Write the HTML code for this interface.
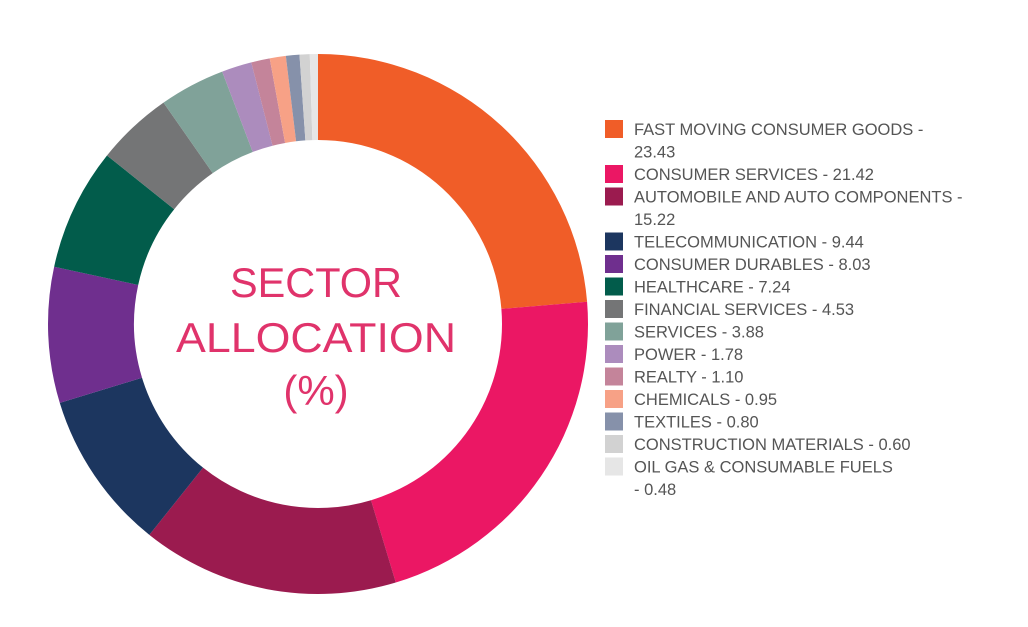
<!DOCTYPE html>
<html><head><meta charset="utf-8"><style>
body{margin:0;background:#fff;}
svg{display:block;font-family:"Liberation Sans",sans-serif;}
</style></head><body>
<svg id="chart" width="1028" height="627" viewBox="0 0 1028 627">
<g id="slices"></g>
<g fill="#e0336b" font-size="42" text-anchor="middle">
<text x="316" y="297" textLength="172" lengthAdjust="spacingAndGlyphs">SECTOR</text>
<text x="316" y="352" textLength="280" lengthAdjust="spacingAndGlyphs">ALLOCATION</text>
<text x="316" y="405">(%)</text>
</g>
<g id="legend"></g>
</svg>
<script>
const categories=["FAST MOVING CONSUMER GOODS","CONSUMER SERVICES","AUTOMOBILE AND AUTO COMPONENTS","TELECOMMUNICATION","CONSUMER DURABLES","HEALTHCARE","FINANCIAL SERVICES","SERVICES","POWER","REALTY","CHEMICALS","TEXTILES","CONSTRUCTION MATERIALS","OIL GAS & CONSUMABLE FUELS"];
const values=[23.43,21.42,15.22,9.44,8.03,7.24,4.53,3.88,1.78,1.10,0.95,0.80,0.60,0.48];
const labels=["23.43","21.42","15.22","9.44","8.03","7.24","4.53","3.88","1.78","1.10","0.95","0.80","0.60","0.48"];
const colors=["#f05d28","#eb1764","#9b1b4f","#1c365f","#6f2f8e","#025c4b","#747576","#80a299","#ac8cbd","#c4849a","#f7a186","#8691aa","#d2d2d2","#e6e6e6"];
const wrapAt=[0,2,13];
const NS="http://www.w3.org/2000/svg";
const cx=318,cy=324,R=270,r=184;
const total=values.reduce((a,b)=>a+b,0);
function angle(v){return v/total*2*Math.PI;}
function pt(rad,a){return [cx+rad*Math.sin(a),cy-rad*Math.cos(a)];}
const gs=document.getElementById('slices');
let a0=0;
values.forEach((v,i)=>{
  const a1=a0+angle(v);
  const large=(a1-a0)>Math.PI?1:0;
  const [x1,y1]=pt(R,a0),[x2,y2]=pt(R,a1),[x3,y3]=pt(r,a1),[x4,y4]=pt(r,a0);
  const p=document.createElementNS(NS,'path');
  p.setAttribute('d',`M${x1},${y1}A${R},${R} 0 ${large} 1 ${x2},${y2}L${x3},${y3}A${r},${r} 0 ${large} 0 ${x4},${y4}Z`);
  p.setAttribute('fill',colors[i]);
  
  
  gs.appendChild(p);
  a0=a1;
});
const gl=document.getElementById('legend');
let row=0;
categories.forEach((c,i)=>{
  const top=120+row*22.5;
  const g=document.createElementNS(NS,'g');
  
  
  const s=document.createElementNS(NS,'rect');
  s.setAttribute('x',605);s.setAttribute('y',top);s.setAttribute('width',18);s.setAttribute('height',18);
  s.setAttribute('fill',colors[i]);
  
  
  g.appendChild(s);
  const lines=wrapAt.includes(i)?[c+" -",(i===13?"- ":"")+labels[i]]:[c+" - "+labels[i]];
  if(i===13){lines[0]=c;}
  lines.forEach((ln,k)=>{
    const t=document.createElementNS(NS,'text');
    t.setAttribute('x',634);t.setAttribute('y',top+15+k*22.5);
    t.setAttribute('font-size','16.5');t.setAttribute('fill','#555');
    
    
    t.textContent=ln;
    g.appendChild(t);
  });
  row+=lines.length;
  gl.appendChild(g);
});
</script>
</body></html>
